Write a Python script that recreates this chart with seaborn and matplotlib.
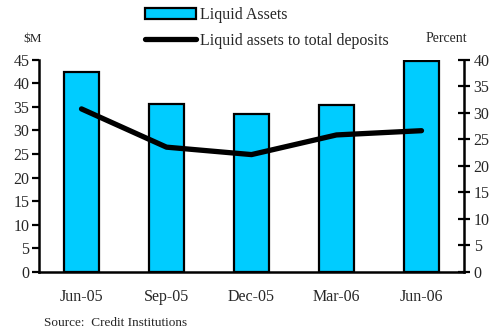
import numpy as np
import pandas as pd
import matplotlib
matplotlib.use("Agg")
import matplotlib.pyplot as plt
import seaborn as sns
from matplotlib.patches import Patch
from matplotlib.lines import Line2D

quarters = ["Jun-05", "Sep-05", "Dec-05", "Mar-06", "Jun-06"]
liquid_assets = [42.4, 35.5, 33.5, 35.3, 44.6]          # $M
liquid_to_deposits = [30.7, 23.5, 22.1, 25.8, 26.6]     # percent

bar_color = "#00CCFF"
serif = ["Liberation Serif", "DejaVu Serif"]

sns.set_theme(style="white")
plt.rcParams["font.family"] = serif

df = pd.DataFrame({"quarter": quarters, "assets": liquid_assets,
                   "ratio": liquid_to_deposits, "pos": np.arange(len(quarters))})

fig = plt.figure(figsize=(4.9, 3.33), dpi=100)
ax = fig.add_axes([39 / 490, 1 - 272 / 333, (464 - 39) / 490, (272 - 59.5) / 333])

sns.barplot(data=df, x="quarter", y="assets", ax=ax, color=bar_color,
            saturation=1, width=0.41, edgecolor="black", linewidth=1.6, zorder=2)

ax2 = ax.twinx()
sns.lineplot(data=df, x="pos", y="ratio", ax=ax2, color="black",
             linewidth=3.8, solid_capstyle="round", zorder=3)

ax.set_xlim(-0.5, len(quarters) - 0.5)
ax.set_ylim(0, 45)
ax2.set_ylim(0, 40)
ax.set_yticks(np.arange(0, 46, 5))
ax2.set_yticks(np.arange(0, 41, 5))

# category labels centred, ticks at boundaries
ax.set_xticks(np.arange(-0.5, len(quarters), 1.0))
ax.set_xticklabels([])
ax.set_xticks(np.arange(len(quarters)), minor=True)
ax.set_xticklabels(quarters, minor=True)
ax.tick_params(axis="x", which="major", direction="out", length=5, width=1.6, color="black")
ax.tick_params(axis="x", which="minor", length=0, pad=12, labelsize=11.5)

ax.tick_params(axis="y", direction="out", length=5, width=1.6, color="black",
               labelsize=11.5, pad=2, left=True)
ax2.tick_params(axis="y", direction="inout", length=9, width=1.6, color="black",
                labelsize=11.5, pad=2.5, right=True)

ax.set_xlabel("")
ax.set_ylabel("")
ax2.set_xlabel("")
ax2.set_ylabel("")

for a in (ax, ax2):
    a.spines["top"].set_visible(False)
    for s in ("left", "right", "bottom"):
        a.spines[s].set_linewidth(1.8)
        a.spines[s].set_color("black")
    a.grid(False)
ax2.spines["left"].set_visible(False)
ax2.spines["bottom"].set_visible(False)
ax.spines["right"].set_visible(False)

fig.text(23 / 490, 1 - 39 / 333, "$M", fontsize=9.5, va="center", ha="left")
fig.text(446 / 490, 1 - 39 / 333, "Percent", fontsize=10, va="center", ha="center")
fig.text(44 / 490, 1 - 323 / 333, "Source:  Credit Institutions", fontsize=9.5, va="center", ha="left")

handles = [Patch(facecolor=bar_color, edgecolor="black", linewidth=1.6),
           Line2D([0], [0], color="black", linewidth=3.8, solid_capstyle="round")]
fig.legend(handles, ["Liquid Assets", "Liquid assets to total deposits"],
           loc="upper left", bbox_to_anchor=(142 / 490, 1 - 4 / 333), frameon=False,
           fontsize=11.5, handlelength=3.2, handleheight=0.65, handletextpad=0.2,
           labelspacing=0.6, borderaxespad=0.0, borderpad=0.2)

fig.savefig("out.png", dpi=100)
